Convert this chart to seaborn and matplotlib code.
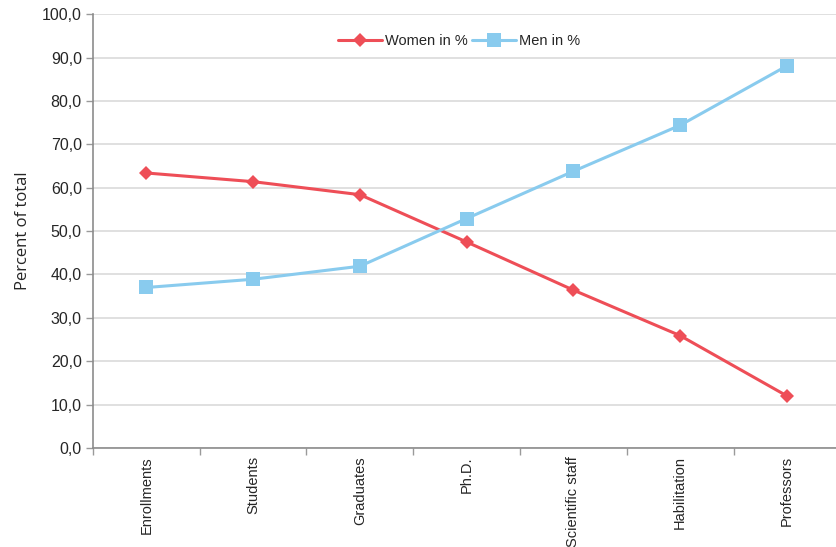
import pandas as pd
import matplotlib
matplotlib.use("Agg")
import matplotlib.pyplot as plt
import seaborn as sns
from matplotlib.ticker import FuncFormatter, FixedLocator

# Data
categories = ["Enrollments", "Students", "Graduates", "Ph.D.",
              "Scientific staff", "Habilitation", "Professors"]
women = [63.4, 61.4, 58.4, 47.5, 36.4, 25.9, 12.0]
men = [37.0, 38.9, 41.9, 52.9, 63.8, 74.4, 88.1]

df = pd.DataFrame({"category": categories, "Women in %": women, "Men in %": men})

sns.set_style("white")
plt.rcParams["font.family"] = ["Liberation Sans", "DejaVu Sans"]

fig = plt.figure(figsize=(8.37, 5.47), dpi=100)
ax = fig.add_axes([0.111, 0.181, 0.893, 0.793])

sns.lineplot(data=df, x="category", y="Women in %", ax=ax, color="#EE4E57",
             marker="D", markersize=7, markeredgewidth=0, linewidth=2.2,
             label="Women in %", sort=False)
sns.lineplot(data=df, x="category", y="Men in %", ax=ax, color="#89CBEE",
             marker="s", markersize=10, markeredgewidth=0, linewidth=2.2,
             label="Men in %", sort=False)

ax.set_ylim(0, 100)
ax.set_xlim(-0.5, len(categories) - 0.5)
ax.set_yticks(range(0, 101, 10))
ax.yaxis.set_major_formatter(FuncFormatter(lambda v, p: f"{v:.1f}".replace(".", ",")))
ax.grid(axis="y", color="#DADADA", linewidth=1.2)
ax.set_axisbelow(True)

ax.set_xticks(range(len(categories)))
ax.set_xticklabels(categories, rotation=90, va="top")
ax.xaxis.set_minor_locator(FixedLocator([i - 0.5 for i in range(len(categories) + 1)]))
ax.tick_params(axis="x", which="major", bottom=False, length=0, pad=6, labelsize=10.5)
ax.tick_params(axis="x", which="minor", bottom=True, length=5, color="#9A9A9A", width=1)
ax.tick_params(axis="y", left=True, length=5, color="#9A9A9A", width=1, labelsize=11.5, pad=3)

for s in ["top", "right"]:
    ax.spines[s].set_visible(False)
for s in ["left", "bottom"]:
    ax.spines[s].set_color("#8C8C8C")
    ax.spines[s].set_linewidth(1.2)

ax.set_xlabel("")
ax.set_ylabel("Percent of total", fontsize=12, family=["Open Sans", "DejaVu Sans"], labelpad=8)

ax.legend(loc="upper center", bbox_to_anchor=(0.49, 0.985), ncol=2, frameon=False,
          fontsize=10.5, handlelength=3, columnspacing=0.3, handletextpad=0.2)

fig.savefig("out.png", dpi=100)
